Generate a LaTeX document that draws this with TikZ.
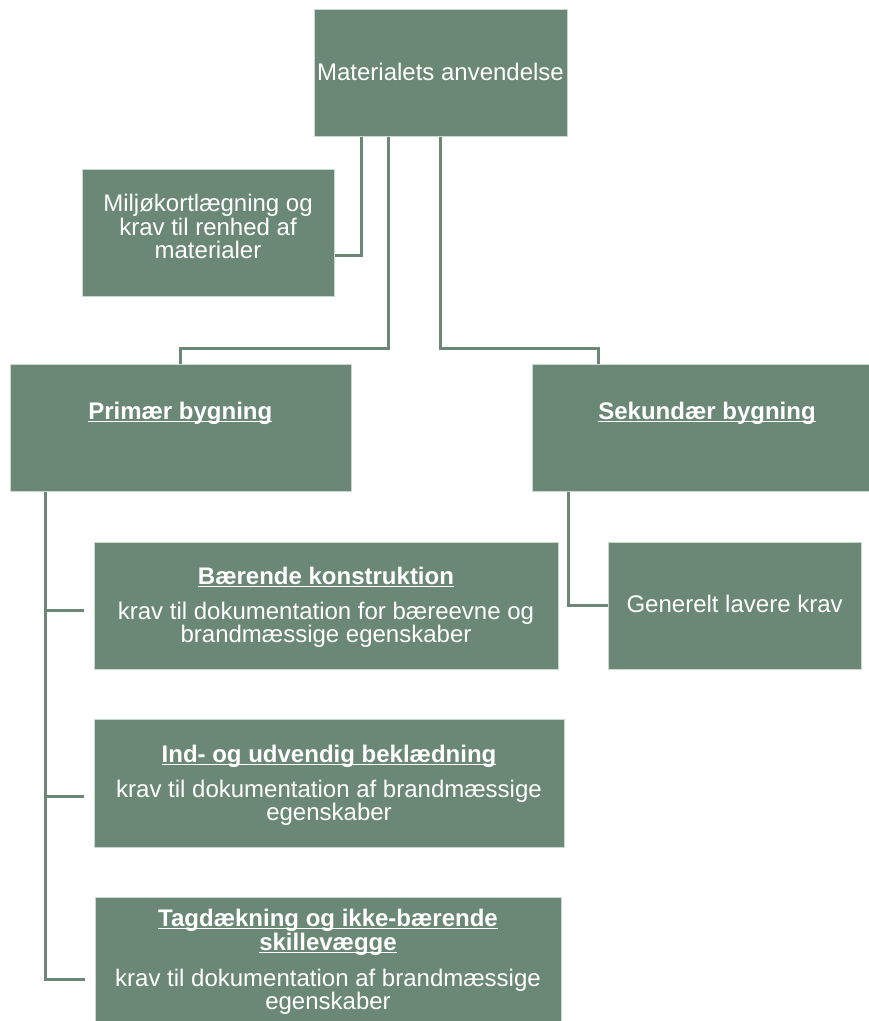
\documentclass[tikz,border=0pt]{standalone}
\usepackage{fontspec}
\setmainfont{Liberation Sans}
\usetikzlibrary{calc}
\definecolor{boxc}{RGB}{107,136,118}
\definecolor{edgec}{RGB}{205,215,209}
\newcommand\myul[1]{\setbox0\hbox{#1}\rlap{\rule[-3.3pt]{\wd0}{1.7pt}}\box0}
\tikzset{
  box/.style={fill=boxc, draw=edgec, line width=0.8pt, inner sep=0pt, anchor=north west},
  conn/.style={draw=boxc, line width=3pt},
  txt/.style={text=white, font=\fontsize{24}{24}\selectfont, inner sep=0pt, anchor=base},
  ttl/.style={txt, font=\fontsize{24}{24}\selectfont\bfseries}
}
\begin{document}
\begin{tikzpicture}[x=1pt,y=-1pt]
\useasboundingbox (0,0) rectangle (869,1021);
% boxes
\node[box, minimum width=253pt, minimum height=127pt] (top) at (314,9) {};
\node[box, minimum width=252.6pt, minimum height=127pt] (milj) at (81.7,169) {};
\node[box, minimum width=340.7pt, minimum height=127pt] (prim) at (10,364) {};
\node[box, minimum width=350pt, minimum height=127pt] (sek) at (532,364) {};
\node[box, minimum width=463.4pt, minimum height=127pt] (bk) at (94.3,542) {};
\node[box, minimum width=469.7pt, minimum height=127.7pt] (ind) at (94.3,719.3) {};
\node[box, minimum width=466pt, minimum height=127pt] (tag) at (95,897.3) {};
\node[box, minimum width=252.7pt, minimum height=127pt] (gen) at (608.3,542) {};
% connectors
\draw[conn] ([xshift=47pt]top.south west) |- ([yshift=-86pt]milj.north east);
\draw[conn] ([xshift=74.5pt]top.south west) -- ++(0,211.5) -| (prim.north);
\draw[conn] (top.south) -- ++(0,211.5) -| ([xshift=66.7pt]sek.north west);
\coordinate (tr) at ([xshift=35pt]prim.south west);
\coordinate (bkb) at ([xshift=-10pt,yshift=-4.5pt]bk.west);
\coordinate (indb) at ([xshift=-10pt,yshift=-12.5pt]ind.west);
\coordinate (tagb) at ([xshift=-10pt,yshift=-18.5pt]tag.west);
\draw[conn] (tr) |- (tagb);
\draw[conn] (tr |- bkb) -- (bkb);
\draw[conn] (tr |- indb) -- (indb);
\draw[conn] ([xshift=36.3pt]sek.south west) |- (gen.west);
% texts
\node[txt] (t0) at (440.5,80) {Materialets anvendelse};
\node[txt] (m1) at (208,211) {Miljøkortlægning og};
\node[txt] (m2) at (208,235) {krav til renhed af};
\node[txt] (m3) at (208,258) {materialer};
\node[ttl] (p1) at (180.3,419) {\myul{Primær bygning}};
\node[ttl] (s1) at (707,419) {\myul{Sekundær bygning}};
\node[ttl] (b1) at (326,584) {\myul{Bærende konstruktion}};
\node[txt] (b2) at (326,619) {krav til dokumentation for bæreevne og};
\node[txt] (b3) at (326,642) {brandmæssige egenskaber};
\node[ttl] (i1) at (329,762) {\myul{Ind- og udvendig beklædning}};
\node[txt] (i2) at (329,797) {krav til dokumentation af brandmæssige};
\node[txt] (i3) at (329,820) {egenskaber};
\node[ttl] (g1) at (328,926) {\myul{Tagdækning og ikke-bærende}};
\node[ttl] (g2) at (328,950) {\myul{skillevægge}};
\node[txt] (g3) at (328,986) {krav til dokumentation af brandmæssige};
\node[txt] (g4) at (328,1009) {egenskaber};
\node[txt] (e1) at (734.6,612) {Generelt lavere krav};
\end{tikzpicture}
\end{document}
